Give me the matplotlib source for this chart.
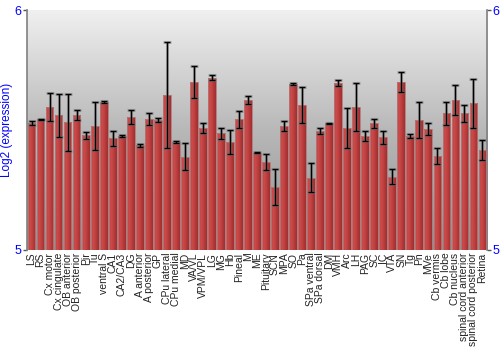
import numpy as np
import matplotlib
matplotlib.use("Agg")
import matplotlib.pyplot as plt
from matplotlib.colors import LinearSegmentedColormap

plt.rcParams['font.family'] = ['Liberation Sans', 'DejaVu Sans']

# --- data ---
regions = [
    "LS", "RS", "Cx motor", "Cx cingulate", "OB anterior", "OB posterior",
    "Pir", "Tu", "ventral S", "CA1", "CA2/CA3", "DG", "A anterior",
    "A posterior", "GP", "CPu lateral", "CPu medial", "MD", "VA/VL",
    "VPM/VPL", "LG", "MG", "Hb", "Pineal", "M", "ME", "Pituitary", "SCN",
    "MPA", "SO", "Pa", "SPa ventral", "SPa dorsal", "DM", "VMH", "Arc",
    "LH", "PAG", "SC", "IC", "VTA", "SN", "Tg", "Pn", "MVe", "Cb vermis",
    "Cb lobe", "Cb nucleus", "spinal cord anterior", "spinal cord posterior",
    "Retina",
]
expression = [
    5.528, 5.544, 5.597, 5.562, 5.533, 5.562, 5.478, 5.515, 5.615, 5.465,
    5.474, 5.554, 5.437, 5.547, 5.542, 5.646, 5.450, 5.389, 5.700, 5.508,
    5.718, 5.486, 5.449, 5.544, 5.625, 5.405, 5.368, 5.264, 5.517, 5.692,
    5.604, 5.301, 5.496, 5.528, 5.697, 5.510, 5.596, 5.475, 5.528, 5.469,
    5.305, 5.700, 5.475, 5.542, 5.504, 5.392, 5.569, 5.624, 5.569, 5.611,
    5.417,
]
spread = [
    0.008, 0.003, 0.058, 0.090, 0.119, 0.022, 0.014, 0.100, 0.004, 0.030,
    0.004, 0.028, 0.006, 0.025, 0.010, 0.221, 0.006, 0.057, 0.068, 0.022,
    0.010, 0.024, 0.051, 0.034, 0.016, 0.002, 0.033, 0.075, 0.022, 0.006,
    0.076, 0.060, 0.014, 0.003, 0.0125, 0.083, 0.101, 0.019, 0.020, 0.026,
    0.031, 0.042, 0.010, 0.075, 0.024, 0.032, 0.046, 0.063, 0.035, 0.101,
    0.040,
]

blue = "#0000ff"
x = np.arange(len(regions))
width = 0.86

fig = plt.figure(figsize=(5, 3.5), dpi=100)
ax = fig.add_axes([0.054, 0.286, 0.92, 0.685])
ax.set_xlim(-0.5, len(regions) - 0.5)
ax.set_ylim(5, 6)

# grey vertical gradient behind the bars (light at the top)
bg = LinearSegmentedColormap.from_list("bg", ["#f0f0f0", "#b8b8b8", "#909090"])
ax.imshow(np.linspace(0, 1, 256).reshape(-1, 1), cmap=bg, aspect="auto",
          extent=(-0.5, len(regions) - 0.5, 5, 6), origin="upper", zorder=0)

# red bars with a horizontal shading
shade = LinearSegmentedColormap.from_list(
    "bar", ["#bd4242", "#cc4c4c", "#c24242", "#b03838", "#a23030"])
grad = np.linspace(0, 1, 32).reshape(1, -1)
bars = ax.bar(x, np.array(expression) - 5, width, bottom=5,
              facecolor="none", edgecolor="#b47878", linewidth=0.6, zorder=3)
for b in bars:
    im = ax.imshow(grad, cmap=shade, aspect="auto", zorder=2,
                   extent=(b.get_x(), b.get_x() + b.get_width(), 5, b.get_y() + b.get_height()))
    im.set_clip_path(b)

ax.errorbar(x, expression, yerr=spread, fmt="none", ecolor="#777777",
            elinewidth=2.2, capsize=3, capthick=2.2, alpha=0.5, zorder=4)
ax.errorbar(x, expression, yerr=spread, fmt="none", ecolor="black",
            elinewidth=1, capsize=2.5, capthick=1, zorder=5)

ax.set_xticks(x)
ax.set_xticklabels(regions, rotation=90, fontsize=7.5, color="#222222")
ax.tick_params(axis="x", length=0, pad=2)

ax.set_yticks([5, 6])
ax.set_yticklabels(["5", "6"], fontsize=9, color=blue)
ax.tick_params(axis="y", length=3, width=1, color="#555555", pad=1,
               right=True, labelright=True)
ax.set_ylabel("Log2 (expression)", color=blue, fontsize=8.5, labelpad=1)

for side in ("top", "bottom"):
    ax.spines[side].set_visible(False)
for side in ("left", "right"):
    ax.spines[side].set_color("#808080")
    ax.spines[side].set_linewidth(1.2)

fig.savefig("out.png", dpi=100)
